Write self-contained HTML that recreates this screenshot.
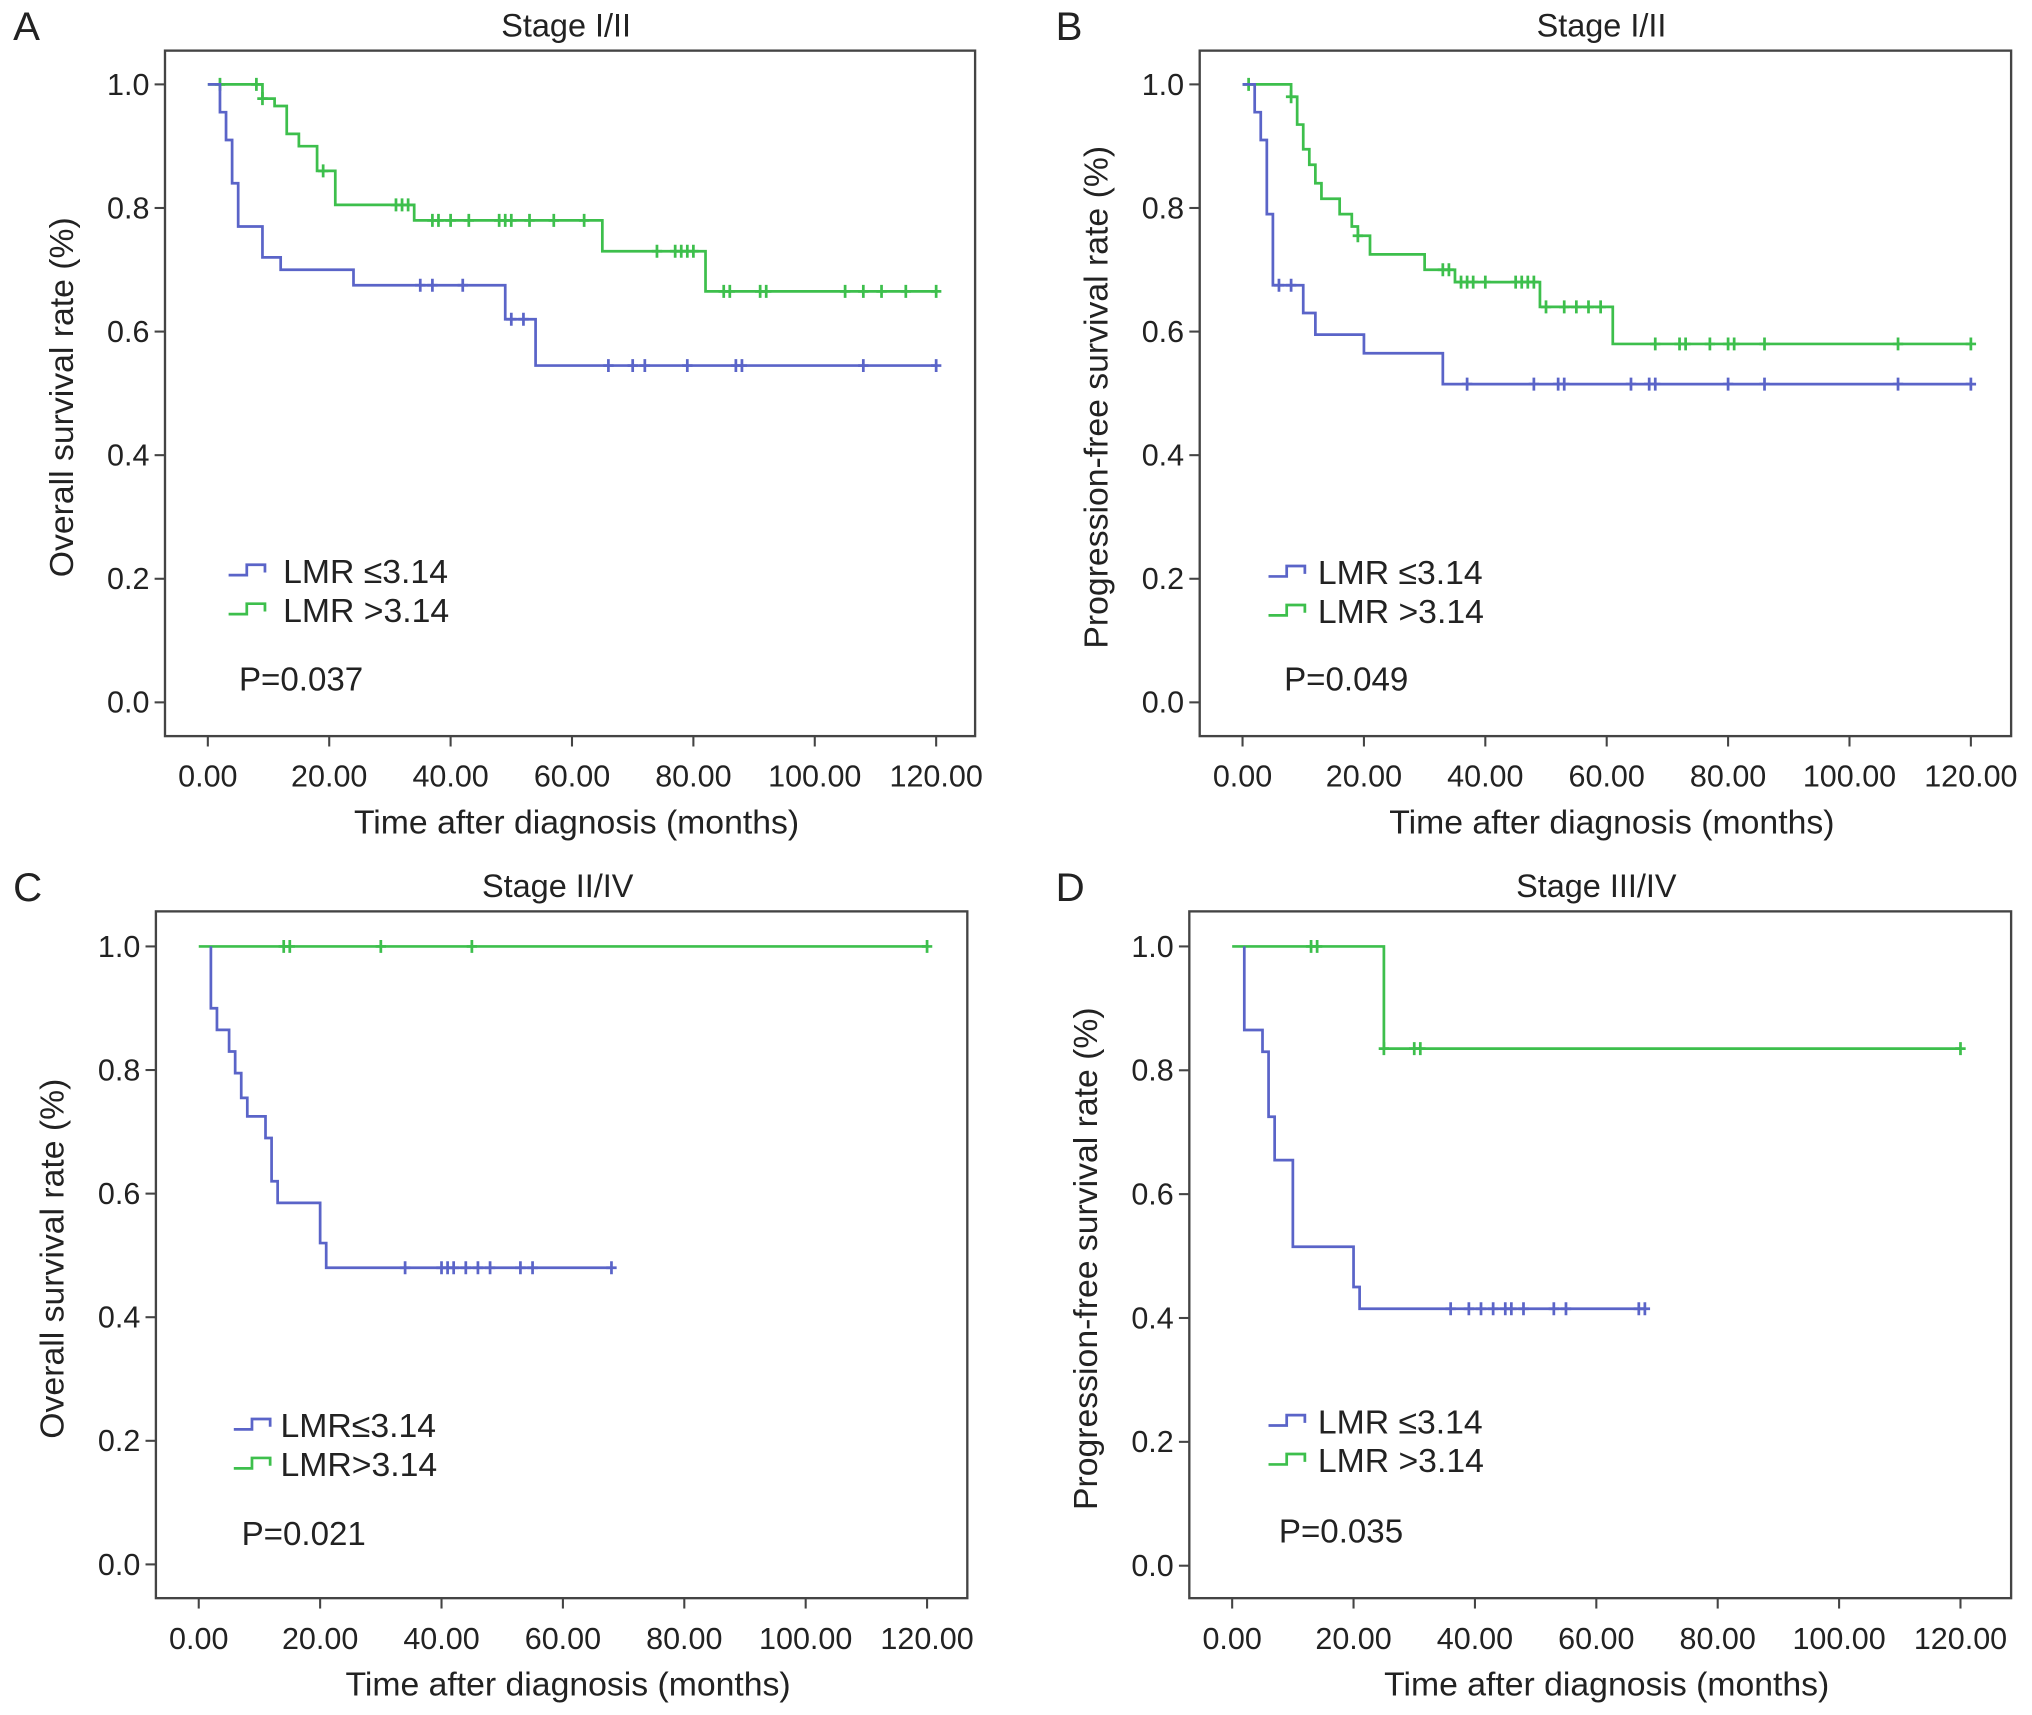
<!DOCTYPE html>
<html><head><meta charset="utf-8"><style>
html,body{margin:0;padding:0;background:#fff}
svg{display:block}
text{font-family:"Liberation Sans",Arial,sans-serif;fill:#222}
</style></head><body>
<svg id="fig" width="2032" height="1715" viewBox="0 0 1565 1321" xmlns="http://www.w3.org/2000/svg"></svg>
<script>
// Panel A
const aBlueT=[2,3,4,5,9,12,24,49,54];
const aBlueS=[0.955,0.91,0.84,0.77,0.72,0.70,0.675,0.62,0.545];
const aBlueC=[35,37,42,50,52,66,70,72,79,87,88,108,120];
const aGreenT=[9,11,13,15,18,21,34,65,82];
const aGreenS=[0.977,0.965,0.92,0.90,0.86,0.805,0.78,0.73,0.665];
const aGreenC=[2,8,9,19,31,32,33,37,38,40,43,48,49,50,53,57,62,74,77,78,79,80,85,86,91,92,105,108,111,115,120];
// Panel B
const bBlueT=[2,3,4,5,10,12,20,33];
const bBlueS=[0.955,0.91,0.79,0.675,0.63,0.595,0.565,0.515];
const bBlueC=[6,8,37,48,52,53,64,67,68,80,86,108,120];
const bGreenT=[8,9,10,11,12,13,16,18,19,21,30,35,49,61];
const bGreenS=[0.98,0.935,0.895,0.87,0.84,0.815,0.79,0.77,0.755,0.725,0.70,0.68,0.64,0.58];
const bGreenC=[1,8,19,33,34,36,37,38,40,45,46,47,48,50,53,55,57,59,68,72,73,77,80,81,86,108,120];
// Panel C
const cBlueT=[2,3,5,6,7,8,11,12,13,20,21];
const cBlueS=[0.90,0.865,0.83,0.795,0.755,0.725,0.69,0.62,0.585,0.52,0.48];
const cBlueC=[34,40,41,42,44,46,48,53,55,68];
const cGreenT=[];
const cGreenS=[];
const cGreenC=[14,15,30,45,120];
// Panel D
const dBlueT=[2,5,6,7,10,20,21];
const dBlueS=[0.865,0.83,0.725,0.655,0.515,0.45,0.415];
const dBlueC=[36,39,41,43,45,46,48,53,55,67,68];
const dGreenT=[25];
const dGreenS=[0.835];
const dGreenC=[13,14,25,30,31,120];

const xTicks=["0.00","20.00","40.00","60.00","80.00","100.00","120.00"];
const yTicks=["0.0","0.2","0.4","0.6","0.8","1.0"];

const NS="http://www.w3.org/2000/svg";
const svg=document.getElementById('fig');
function el(tag,attrs,parent){const e=document.createElementNS(NS,tag);for(const k in attrs)e.setAttribute(k,attrs[k]);(parent||svg).appendChild(e);return e;}
function txt(s,attrs,parent){const e=el('text',attrs,parent);e.textContent=s;return e;}

const BLUE="#5a64c8",GREEN="#3dbf4c";
const panels=[
 {id:'a',letter:'A',title:'Stage I/II',ylab:'Overall survival rate (%)',box:[127,39,751,567],x0:160,x120:721,y1:65,y0:541,
  bT:aBlueT,bS:aBlueS,bC:aBlueC,bStart:0,gT:aGreenT,gS:aGreenS,gC:aGreenC,gStart:0,bEnd:120,gEnd:120,
  leg:[176,218,440,470],p:'P=0.037',pp:[184,523],labs:['LMR \u22643.14','LMR >3.14']},
 {id:'b',letter:'B',title:'Stage I/II',ylab:'Progression-free survival rate (%)',box:[924,39,1549,567],x0:957,x120:1518,y1:65,y0:541,
  bT:bBlueT,bS:bBlueS,bC:bBlueC,bStart:0,gT:bGreenT,gS:bGreenS,gC:bGreenC,gStart:0,bEnd:120,gEnd:120,
  leg:[977,1015,441,471],p:'P=0.049',pp:[989,523],labs:['LMR \u22643.14','LMR >3.14']},
 {id:'c',letter:'C',title:'Stage II/IV',ylab:'Overall survival rate (%)',box:[120,702,745,1231],x0:153,x120:714,y1:729,y0:1205,
  bT:cBlueT,bS:cBlueS,bC:cBlueC,bStart:2,gT:cGreenT,gS:cGreenS,gC:cGreenC,gStart:0,bEnd:68,gEnd:120,
  leg:[180,216,1098,1128],p:'P=0.021',pp:[186,1181],labs:['LMR\u22643.14','LMR>3.14']},
 {id:'d',letter:'D',title:'Stage III/IV',ylab:'Progression-free survival rate (%)',box:[916,702,1549,1231],x0:949,x120:1510,y1:729,y0:1206,
  bT:dBlueT,bS:dBlueS,bC:dBlueC,bStart:2,gT:dGreenT,gS:dGreenS,gC:dGreenC,gStart:0,bEnd:68,gEnd:120,
  leg:[977,1015,1095,1125],p:'P=0.035',pp:[985,1179],labs:['LMR \u22643.14','LMR >3.14']}
];

function survAt(T,S,t){let s=1;for(let i=0;i<T.length;i++){if(T[i]<=t)s=S[i];}return s;}

panels.forEach(P=>{
  const g=el('g',{});
  
  
  const xs=t=>P.x0+(P.x120-P.x0)*t/120;
  const ys=v=>P.y0+(P.y1-P.y0)*v;
  const [L,T,R,B]=P.box;
  const frame=el('rect',{x:L,y:T,width:R-L,height:B-T,fill:'none',stroke:'#444','stroke-width':1.8},g);
  
  
  const lt=txt(P.letter,{x:0,y:T-8,'font-size':31},g);
  lt.setAttribute('x',P.id==='a'?10:P.id==='b'?813:P.id==='c'?10:813);
  
  
  const tt=txt(P.title,{x:(L+R)/2-3,y:T-11,'font-size':25,'text-anchor':'middle'},g);
  
  
  yTicks.forEach((lab,i)=>{
    const y=ys(i*0.2);
    el('line',{x1:L-8,x2:L,y1:y,y2:y,stroke:'#444','stroke-width':1.6},g);
    const t=txt(lab,{x:L-12,y:y+8,'font-size':23.5,'text-anchor':'end'},g);
    
    
  });
  xTicks.forEach((lab,i)=>{
    const x=xs(i*20);
    el('line',{x1:x,x2:x,y1:B,y2:B+8,stroke:'#444','stroke-width':1.6},g);
    const t=txt(lab,{x:x,y:B+39,'font-size':23.5,'text-anchor':'middle'},g);
    
    
  });
  const xt=txt('Time after diagnosis (months)',{x:(L+R)/2+5,y:B+75,'font-size':26,'text-anchor':'middle'},g);
  
  
  const yc=(T+B)/2+3;
  const yt=txt(P.ylab,{x:0,y:0,'font-size':26,'text-anchor':'middle',transform:`translate(${L-71},${yc}) rotate(-90)`},g);
  
  
  function curve(Ts,Ss,Cs,start,end,color,name){
    let d=`M${xs(start)},${ys(1)}`;
    for(let i=0;i<Ts.length;i++){d+=` H${xs(Ts[i])} V${ys(Ss[i])}`;}
    d+=` H${xs(end)}`;
    const p=el('path',{d:d,fill:'none',stroke:color,'stroke-width':2.1},g);
    
    
    Cs.forEach(c=>{
      const cx=xs(c),cy=ys(survAt(Ts,Ss,c));
      const m=el('path',{d:`M${cx},${cy-5}V${cy+5}M${cx-4},${cy}H${cx+4}`,stroke:color,'stroke-width':2.1},g);
      
      
    });
  }
  curve(P.gT,P.gS,P.gC,P.gStart,P.gEnd,GREEN,'lmr-high');
  curve(P.bT,P.bS,P.bC,P.bStart,P.bEnd,BLUE,'lmr-low');
  const [lx,tx,ly1,ly2]=P.leg;
  [[ly1,BLUE,P.labs[0],'legend-entry-low'],[ly2,GREEN,P.labs[1],'legend-entry-high']].forEach(([y,c,lab,nm])=>{
    const lg=el('g',{},g);
    
    
    el('path',{d:`M${lx},${y+3}H${lx+14}V${y-5}H${lx+28}V${y+1}`,fill:'none',stroke:c,'stroke-width':2.1},lg);
    txt(lab,{x:tx,y:y+9,'font-size':26},lg);
  });
  const pt=txt(P.p,{x:P.pp[0],y:P.pp[1]+9,'font-size':25.5},g);
  
  
});
</script>
</body></html>
